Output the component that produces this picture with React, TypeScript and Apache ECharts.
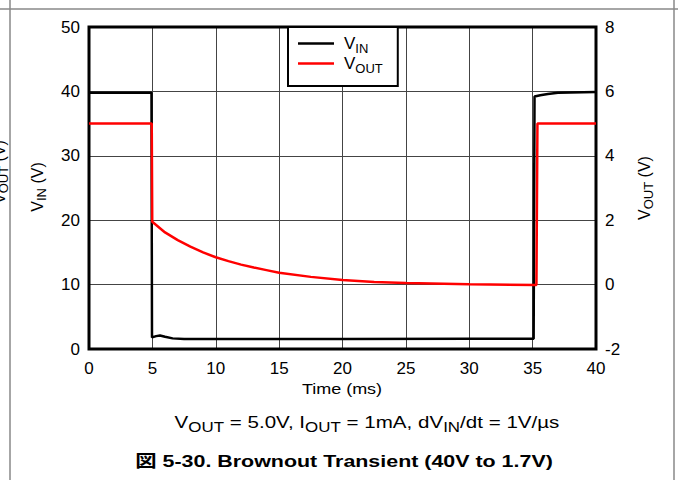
import React, { useEffect, useRef } from "react";
import * as echarts from "echarts";

const FONT = "'Liberation Sans', Arial, 'Noto Sans CJK JP', sans-serif";

const xTicks = [0, 5, 10, 15, 20, 25, 30, 35, 40];
const vinTicks = [0, 10, 20, 30, 40, 50];
const voutTicks = [-2, 0, 2, 4, 6, 8];

const vinTime = [0, 4.93, 4.97, 5.3, 5.6, 6.0, 6.6, 7.5, 10, 20, 30, 35.08, 35.15, 35.6, 36.2, 37, 40];
const vinValue = [39.8, 39.8, 1.8, 2.0, 2.1, 1.9, 1.65, 1.55, 1.55, 1.55, 1.6, 1.6, 39.2, 39.4, 39.6, 39.8, 39.9];

const voutTime = [0, 4.95, 4.99, 6, 7, 8, 9, 10, 11, 12, 13, 14, 15, 17.5, 20, 22.5, 25, 30, 35.3, 35.38, 40];
const voutValue = [5.0, 5.0, 1.95, 1.62, 1.38, 1.18, 1.0, 0.85, 0.73, 0.62, 0.53, 0.45, 0.37, 0.24, 0.14, 0.08, 0.05, 0.01, -0.01, 5.0, 5.0];

const seriesNames = ["VIN", "VOUT"];

const mkRich = (main: number, sub: number, drop: number) => ({
  v: { fontSize: main, fontFamily: FONT, color: "#000", lineHeight: main, verticalAlign: "top" },
  s: { fontSize: sub, fontFamily: FONT, color: "#000", lineHeight: sub, padding: [drop, 0, 0, 0], verticalAlign: "top" },
});

const legendRich = mkRich(17, 13, 7);
const nameRich = mkRich(16, 13, 6);

export default function App() {
  const ref = useRef<HTMLDivElement>(null);
  useEffect(() => {
    if (!ref.current) return;
    const chart = echarts.init(ref.current, undefined, { renderer: "svg" });
    const left = 89, top = 27, right = 596, bottom = 349;
    chart.setOption({
      animation: false,
      backgroundColor: "#fff",
      grid: {
        left,
        top,
        width: right - left,
        height: bottom - top,
        show: true,
        borderColor: "#000",
        borderWidth: 3,
        backgroundColor: "transparent",
        z: 3,
      },
      legend: {
        data: seriesNames,
        orient: "vertical",
        left: 288,
        top: 27,
        padding: [8, 15, 11, 10],
        itemGap: 0,
        itemWidth: 36,
        itemHeight: 2.5,
        icon: "rect",
        borderColor: "#000",
        borderWidth: 2,
        backgroundColor: "#fff",
        borderRadius: 0,
        formatter: (n: string) => (n === "VIN" ? "{v|V}{s|IN}" : "{v|V}{s|OUT}"),
        textStyle: { rich: legendRich, padding: [0, 0, 0, 5] },
      },
      xAxis: {
        type: "value",
        min: xTicks[0],
        max: xTicks[xTicks.length - 1],
        interval: 5,
        axisLine: { show: false },
        axisTick: { show: false },
        splitLine: { show: true, lineStyle: { color: "#444", width: 1 } },
        axisLabel: { fontSize: 17, fontFamily: FONT, color: "#000", margin: 11 },
      },
      yAxis: [
        {
          type: "value",
          min: vinTicks[0],
          max: vinTicks[vinTicks.length - 1],
          interval: 10,
          axisLine: { show: false },
          axisTick: { show: false },
          splitLine: { show: true, lineStyle: { color: "#444", width: 1 } },
          axisLabel: { fontSize: 17, fontFamily: FONT, color: "#000", margin: 9 },
        },
        {
          type: "value",
          min: voutTicks[0],
          max: voutTicks[voutTicks.length - 1],
          interval: 2,
          position: "right",
          axisLine: { show: false },
          axisTick: { show: false },
          splitLine: { show: false },
          axisLabel: { fontSize: 17, fontFamily: FONT, color: "#000", margin: 9 },
        },
      ],
      series: [
        {
          name: seriesNames[0],
          type: "line",
          yAxisIndex: 0,
          showSymbol: false,
          symbol: "none",
          lineStyle: { color: "#000", width: 2.5 },
          itemStyle: { color: "#000" },
          data: vinTime.map((t, i) => [t, vinValue[i]]),
          z: 4,
        },
        {
          name: seriesNames[1],
          type: "line",
          yAxisIndex: 1,
          showSymbol: false,
          symbol: "none",
          lineStyle: { color: "#ff0000", width: 2.5 },
          itemStyle: { color: "#ff0000" },
          data: voutTime.map((t, i) => [t, voutValue[i]]),
          z: 5,
        },
      ],
      graphic: [
        { type: "line", shape: { x1: 0, y1: 9, x2: 678, y2: 9 }, style: { stroke: "#888", lineWidth: 1.5 } },
        { type: "line", shape: { x1: 10, y1: 0, x2: 10, y2: 480 }, style: { stroke: "#888", lineWidth: 1.5 } },
        { type: "line", shape: { x1: 674, y1: 0, x2: 674, y2: 480 }, style: { stroke: "#888", lineWidth: 1.5 } },
        {
          type: "text",
          x: 37,
          y: 187,
          rotation: Math.PI / 2,
          style: { text: "{v|V}{s|IN}{v| (V)}", rich: nameRich, align: "center", verticalAlign: "middle" },
        },
        {
          type: "text",
          x: -1,
          y: 172,
          rotation: Math.PI / 2,
          style: { text: "{v|V}{s|OUT}{v| (V)}", rich: nameRich, align: "center", verticalAlign: "middle" },
        },
        {
          type: "text",
          x: 644,
          y: 188,
          rotation: Math.PI / 2,
          style: { text: "{v|V}{s|OUT}{v| (V)}", rich: nameRich, align: "center", verticalAlign: "middle" },
        },
        {
          type: "text",
          x: 342,
          y: 389,
          scaleX: 1.2,
          style: {
            text: "Time (ms)",
            font: `15px ${FONT}`,
            fill: "#000",
            align: "center",
            verticalAlign: "middle",
          },
        },
        {
          type: "text",
          x: 367,
          y: 422,
          scaleX: 1.21,
          style: {
            text: "{v|V}{s|OUT}{v| = 5.0V, I}{s|OUT}{v| = 1mA, dV}{s|IN}{v|/dt = 1V/µs}",
            rich: mkRich(17, 14, 7),
            align: "center",
            verticalAlign: "middle",
          },
        },
        {
          type: "text",
          x: 344,
          y: 461,
          scaleX: 1.26,
          style: {
            text: "図 5-30. Brownout Transient (40V to 1.7V)",
            font: `bold 17px ${FONT}`,
            fill: "#000",
            align: "center",
            verticalAlign: "middle",
          },
        },
      ],
    });
    return () => chart.dispose();
  }, []);
  return <div ref={ref} style={{ position: "fixed", left: 0, top: 0, width: 678, height: 480 }} />;
}
